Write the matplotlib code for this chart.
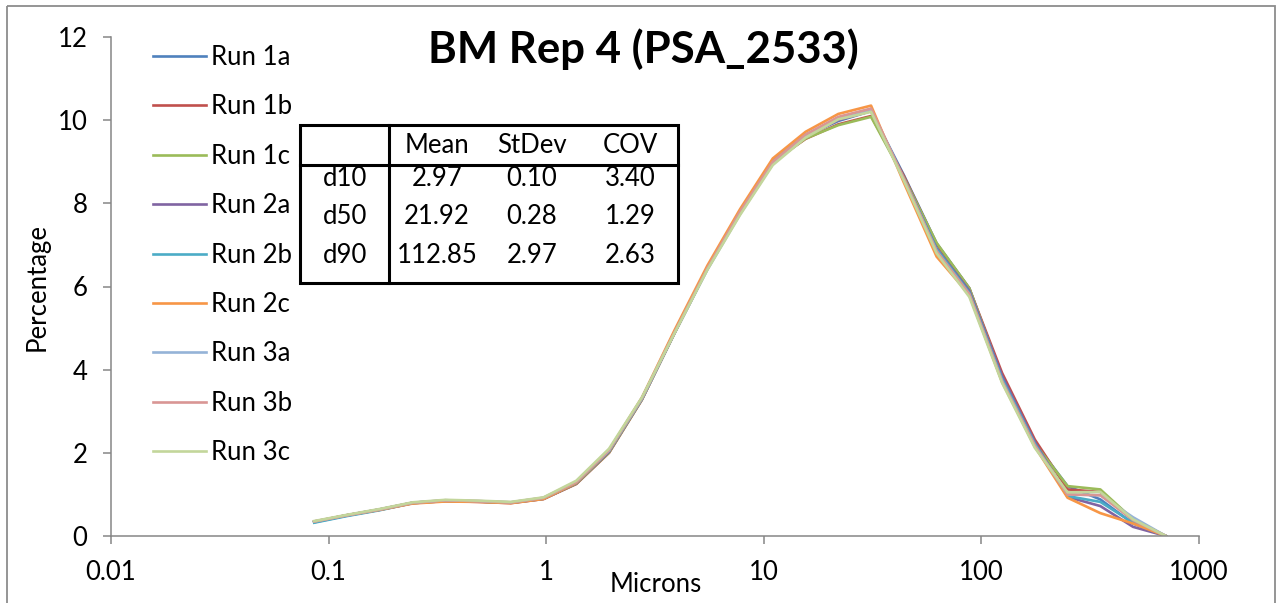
import matplotlib
matplotlib.use("Agg")
import matplotlib.pyplot as plt
from matplotlib.patches import Rectangle
from matplotlib.ticker import NullLocator

# particle size channels (microns)
microns = [0.0859, 0.1215, 0.1719, 0.2431, 0.3438, 0.4861, 0.6875, 0.9723, 1.375, 1.945,
           2.75, 3.889, 5.5, 7.778, 11.0, 15.56, 22.0, 31.11, 44.0, 62.23,
           88.0, 124.5, 176.0, 248.9, 352.0, 497.8, 704.0]

run_1a = [0.33, 0.49, 0.63, 0.79, 0.84, 0.83, 0.80, 0.89, 1.26, 2.02, 3.28, 4.88, 6.42, 7.78, 8.98,
          9.62, 9.98, 10.22, 8.68, 7.04, 5.96, 3.82, 2.24, 1.20, 0.88, 0.30, 0.0]
run_1b = [0.34, 0.50, 0.63, 0.79, 0.84, 0.82, 0.79, 0.89, 1.25, 2.00, 3.27, 4.88, 6.43, 7.80, 9.00,
          9.55, 9.90, 10.10, 8.66, 7.02, 5.95, 3.92, 2.32, 1.12, 1.06, 0.38, 0.0]
run_1c = [0.34, 0.50, 0.64, 0.80, 0.85, 0.83, 0.80, 0.90, 1.26, 2.01, 3.28, 4.88, 6.42, 7.78, 8.98,
          9.56, 9.88, 10.08, 8.62, 7.05, 5.96, 3.80, 2.22, 1.20, 1.12, 0.40, 0.0]
run_2a = [0.34, 0.50, 0.64, 0.80, 0.85, 0.83, 0.80, 0.90, 1.27, 2.03, 3.30, 4.90, 6.45, 7.80, 9.00,
          9.62, 10.00, 10.22, 8.60, 6.92, 5.90, 3.85, 2.26, 0.94, 0.72, 0.22, 0.0]
run_2b = [0.32, 0.48, 0.62, 0.79, 0.85, 0.83, 0.80, 0.90, 1.28, 2.05, 3.30, 4.90, 6.45, 7.82, 9.02,
          9.65, 10.05, 10.25, 8.60, 6.90, 5.85, 3.78, 2.22, 0.96, 0.82, 0.32, 0.0]
run_2c = [0.35, 0.50, 0.63, 0.78, 0.83, 0.82, 0.79, 0.89, 1.28, 2.06, 3.32, 4.95, 6.50, 7.86, 9.08,
          9.72, 10.15, 10.35, 8.50, 6.72, 5.80, 3.70, 2.15, 0.92, 0.55, 0.30, 0.0]
run_3a = [0.35, 0.50, 0.64, 0.80, 0.86, 0.84, 0.81, 0.92, 1.30, 2.06, 3.30, 4.88, 6.40, 7.74, 8.95,
          9.60, 10.05, 10.25, 8.58, 6.85, 5.80, 3.72, 2.16, 1.00, 0.98, 0.45, 0.0]
run_3b = [0.35, 0.50, 0.64, 0.80, 0.86, 0.84, 0.81, 0.92, 1.30, 2.07, 3.32, 4.90, 6.44, 7.80, 9.00,
          9.65, 10.08, 10.28, 8.60, 6.85, 5.82, 3.72, 2.18, 1.00, 0.98, 0.38, 0.0]
run_3c = [0.36, 0.51, 0.65, 0.81, 0.87, 0.85, 0.82, 0.93, 1.33, 2.10, 3.33, 4.88, 6.40, 7.72, 8.92,
          9.58, 10.02, 10.20, 8.55, 6.80, 5.75, 3.68, 2.12, 1.05, 1.06, 0.40, 0.0]

run_names = ["Run 1a", "Run 1b", "Run 1c", "Run 2a", "Run 2b", "Run 2c", "Run 3a", "Run 3b", "Run 3c"]
runs = [run_1a, run_1b, run_1c, run_2a, run_2b, run_2c, run_3a, run_3b, run_3c]
colors = ["#4F81BD", "#C0504D", "#9BBB59", "#8064A2", "#4BACC6", "#F79646",
          "#95B3D7", "#D99694", "#C3D69B"]

x_ticks = [0.01, 0.1, 1, 10, 100, 1000]
x_tick_labels = ["0.01", "0.1", "1", "10", "100", "1000"]
y_ticks = [0, 2, 4, 6, 8, 10, 12]

# summary table
table_cols = ["Mean", "StDev", "COV"]
table_rows = ["d10", "d50", "d90"]
table_vals = [["2.97", "0.10", "3.40"],
              ["21.92", "0.28", "1.29"],
              ["112.85", "2.97", "2.63"]]

title = "BM Rep 4 (PSA_2533)"

plt.rcParams['font.family'] = ['Lato', 'DejaVu Sans']
W, H = 1277, 603
grey = "#868686"
fs = 18.5

fig = plt.figure(figsize=(W / 100, H / 100), dpi=100)
ax = fig.add_axes([111 / W, 1 - 536 / H, (1199 - 111) / W, (536 - 37) / H])

for name, ys, c in zip(run_names, runs, colors):
    ax.plot(microns, ys, color=c, lw=1.9, label=name)

ax.set_xscale('log')
ax.set_xlim(0.01, 1000)
ax.set_ylim(0, 12)
ax.set_xticks(x_ticks)
ax.set_xticklabels(x_tick_labels)
ax.xaxis.set_minor_locator(NullLocator())
ax.set_yticks(y_ticks)
ax.tick_params(direction='out', length=6, width=1.1, color=grey, labelsize=fs, pad=11)
for side in ['top', 'right']:
    ax.spines[side].set_visible(False)
for side in ['left', 'bottom']:
    ax.spines[side].set_color(grey)
    ax.spines[side].set_linewidth(1.1)

ax.legend(loc='upper left', bbox_to_anchor=(153 / W, 1 - 45 / H), bbox_transform=fig.transFigure,
          frameon=False, fontsize=fs, handlelength=2.05, handletextpad=0.2,
          labelspacing=0.95, borderpad=0, borderaxespad=0)

# overlay in pixel coordinates for title, labels, table and frame
ov = fig.add_axes([0, 0, 1, 1])
ov.set_xlim(0, W)
ov.set_ylim(H, 0)
ov.axis('off')

ov.text(643, 63, title, ha='center', va='baseline', fontsize=31.5, fontweight='bold')
ov.text(656, 585, "Microns", ha='center', va='center', fontsize=fs)
ov.text(37, 287, "Percentage", ha='center', va='center', rotation=90, fontsize=fs)

ov.add_patch(Rectangle((300, 125), 378, 158, fill=False, ec='black', lw=2.2))
ov.plot([300, 678], [165, 165], color='black', lw=2.2)
ov.plot([389, 389], [125, 283], color='black', lw=2.2)
col_x = [437, 532, 630]
row_y = [186, 224, 263]
for cx, name in zip(col_x, table_cols):
    ov.text(cx, 153, name, ha='center', va='baseline', fontsize=fs)
for ry, rname, vals in zip(row_y, table_rows, table_vals):
    ov.text(345, ry, rname, ha='center', va='baseline', fontsize=fs)
    for cx, v in zip(col_x, vals):
        ov.text(cx, ry, v, ha='center', va='baseline', fontsize=fs)

ov.add_patch(Rectangle((7, 6), 1268, 620, fill=False, ec='#8c8c8c', lw=1.3))

fig.savefig("out.png", dpi=100)
